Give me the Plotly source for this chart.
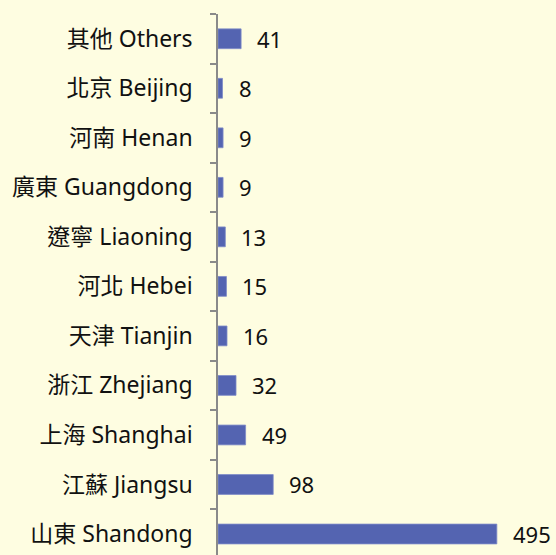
import plotly.graph_objects as go

categories = ["山東 Shandong", "江蘇 Jiangsu", "上海 Shanghai", "浙江 Zhejiang", "天津 Tianjin",
              "河北 Hebei", "遼寧 Liaoning", "廣東 Guangdong", "河南 Henan", "北京 Beijing", "其他 Others"]
values = [495, 98, 49, 32, 16, 15, 13, 9, 9, 8, 41]

FONT = "'Noto Sans', 'Noto Sans CJK TC', sans-serif"
BG = "#FEFDE1"

fig = go.Figure()
fig.add_trace(go.Bar(
    x=values, y=categories, orientation="h",
    marker=dict(color="#5464B1", line=dict(color="#7F8CC8", width=0.8)),
    width=0.4, hoverinfo="x+y",
))
for v, c in zip(values, categories):
    fig.add_annotation(x=v, y=c, text=str(v), showarrow=False, xanchor="left",
                       xshift=14, font=dict(family=FONT, size=22, color="#111111"))

fig.update_layout(
    width=556, height=555,
    margin=dict(l=218, r=0, t=14, b=0),
    paper_bgcolor=BG, plot_bgcolor=BG,
    showlegend=False,
    xaxis=dict(range=[0, 600], visible=False),
    yaxis=dict(type="category", range=[-0.424, 10.5], tickson="boundaries",
               ticks="outside", ticklen=6, tickcolor="#8A8A8A", tickwidth=1.5,
               showline=True, linecolor="#8A8A8A", linewidth=1.5,
               showgrid=False, ticklabelstandoff=19,
               tickfont=dict(family=FONT, size=23, color="#111111")),
)
fig.write_html("out.html")
